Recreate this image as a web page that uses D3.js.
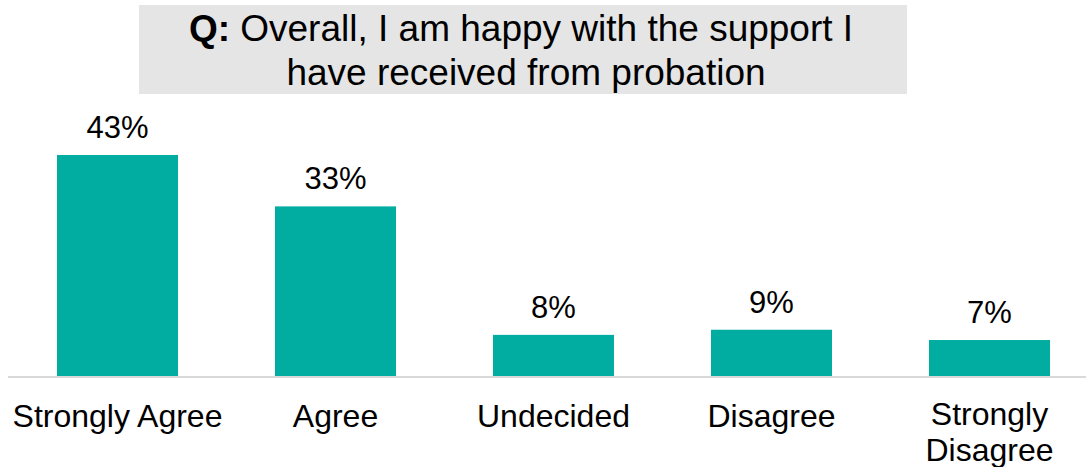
<!DOCTYPE html>
<html>
<head>
<meta charset="utf-8">
<script src="https://cdn.jsdelivr.net/npm/d3@7"></script>
<style>
  html, body { margin: 0; padding: 0; background: #ffffff; }
  svg { display: block; font-family: "Liberation Sans", Arial, sans-serif; }
</style>
</head>
<body>
<svg id="chart" width="1086" height="467"></svg>
<script>
// Survey responses (percent of respondents)
const categories = ["Strongly Agree", "Agree", "Undecided", "Disagree", "Strongly Disagree"];
const categoryLines = [["Strongly Agree"], ["Agree"], ["Undecided"], ["Disagree"], ["Strongly", "Disagree"]];
const values = [43, 33, 8, 9, 7];
const valueLabels = ["43%", "33%", "8%", "9%", "7%"];
const titleBold = "Q:";
const titleLines = [" Overall, I am happy with the support I", "have received from probation"];

const svg = d3.select("#chart");
const W = 1086;

const x = d3.scaleBand()
  .domain(categories)
  .range([8.5, 1098.5])
  .paddingInner(0.445)
  .paddingOuter(0.2225);

const baseY = 376;
const y = d3.scaleLinear().domain([0, 50]).range([baseY, baseY - 257]);

// Title panel
svg.append("rect")
  .attr("x", 139).attr("y", 5)
  .attr("width", 768).attr("height", 89)
  .attr("fill", "#e5e5e5");

const title = svg.append("text")
  .attr("text-anchor", "middle")
  .attr("font-size", 37)
  .attr("fill", "#000");
const t1 = title.append("tspan").attr("x", 521).attr("y", 41);
t1.append("tspan").attr("font-weight", "bold").text(titleBold);
t1.append("tspan").text(titleLines[0]);
title.append("tspan").attr("x", 526).attr("y", 85).text(titleLines[1]);

// Baseline
svg.append("line")
  .attr("x1", 8).attr("x2", W)
  .attr("y1", baseY + 1).attr("y2", baseY + 1)
  .attr("stroke", "#d9d9d9")
  .attr("stroke-width", 2);

// Bars
svg.selectAll("rect.bar")
  .data(values)
  .join("rect")
  .attr("class", "bar")
  .attr("x", (d, i) => x(categories[i]))
  .attr("y", d => y(d))
  .attr("width", x.bandwidth())
  .attr("height", d => y(0) - y(d))
  .attr("fill", "#00ada0");

// Value labels
svg.selectAll("text.val")
  .data(values)
  .join("text")
  .attr("class", "val")
  .attr("x", (d, i) => x(categories[i]) + x.bandwidth() / 2)
  .attr("y", d => y(d) - 17)
  .attr("text-anchor", "middle")
  .attr("font-size", 31)
  .attr("fill", "#000")
  .text((d, i) => valueLabels[i]);

// Category labels
const cat = svg.selectAll("text.cat")
  .data(categories)
  .join("text")
  .attr("class", "cat")
  .attr("text-anchor", "middle")
  .attr("font-size", 32)
  .attr("fill", "#000");
cat.each(function (d, i) {
  const cx = x(d) + x.bandwidth() / 2;
  const lines = categoryLines[i];
  d3.select(this).selectAll("tspan")
    .data(lines)
    .join("tspan")
    .attr("x", cx)
    .attr("y", (l, j) => (lines.length > 1 ? 425 : 427) + j * 36)
    .text(l => l);
});
</script>
</body>
</html>
